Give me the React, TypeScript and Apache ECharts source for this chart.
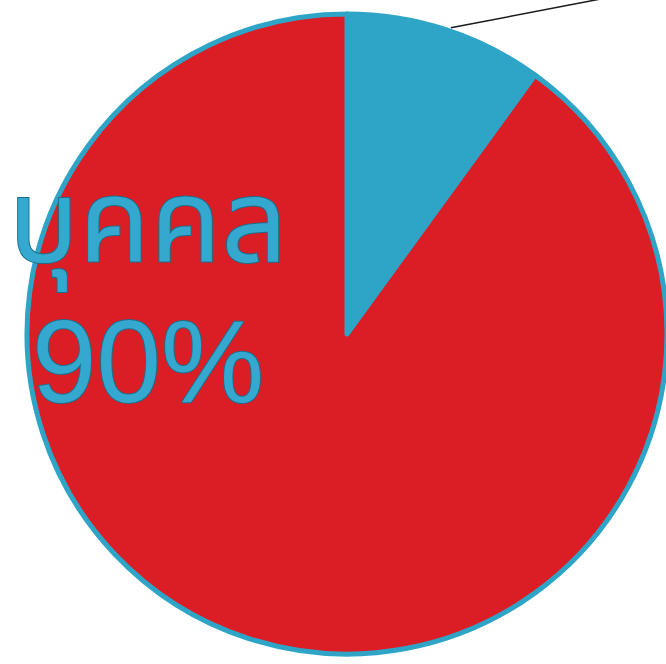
import React, { useEffect, useRef } from "react";
import * as echarts from "echarts";

const categories = ["นิติบุคคล", "บุคคล"];
const values = [10, 90];
const colors = ["#2ea4c6", "#db1e26"];

export default function App() {
  const ref = useRef<HTMLDivElement>(null);
  useEffect(() => {
    document.body.style.margin = "0";
    if (!ref.current) return;
    const chart = echarts.init(ref.current, null, { renderer: "svg" });
    const cx = 347;
    const cy = 334;
    const r = 320;
    const total = values.reduce((a, b) => a + b, 0);
    // midpoint angle of the first slice (clockwise from top)
    const midDeg = ((values[0] / total) * 360) / 2;
    const midRad = (midDeg * Math.PI) / 180;
    const sx = cx + (r + 3) * Math.sin(midRad) + 4;
    const sy = cy - (r + 3) * Math.cos(midRad) + 1;
    const dirX = 130,
      dirY = -25;
    const dl = Math.hypot(dirX, dirY);
    const ex = sx + (dirX / dl) * 400;
    const ey = sy + (dirY / dl) * 400;

    const labelBase = {
      show: true,
      position: "inside",
      fontFamily: "'Liberation Sans', Arial, 'Noto Sans Thai', sans-serif",
      fontSize: 116,
      color: "#35a8d0",
      textBorderColor: "#1c6f8c",
      textBorderWidth: 2,
      align: "center",
    };

    const makeSeries = (fmt: string, y: number, visible: boolean) => ({
      type: "pie",
      center: [cx, cy],
      radius: [0, r],
      startAngle: 90,
      clockwise: true,
      silent: true,
      z: visible ? 1 : 2,
      itemStyle: visible
        ? { borderColor: "#2ea4c6", borderWidth: 5 }
        : { color: "transparent", borderWidth: 0 },
      data: categories.map((name, i) => ({
        name,
        value: values[i],
        itemStyle: visible ? { color: colors[i] } : { color: "transparent" },
        label: i === 1 ? { ...labelBase, formatter: fmt } : { show: false },
        labelLine: { show: false },
      })),
      labelLayout: (params: any) =>
        params.dataIndex === 1
          ? { x: 148, y, align: "center", verticalAlign: "middle" }
          : {},
    });

    chart.setOption({
      animation: false,
      backgroundColor: "#ffffff",
      series: [makeSeries("{b}", 222, true), makeSeries("{d}%", 362, false)],
      graphic: [
        {
          type: "line",
          shape: { x1: sx, y1: sy, x2: ex, y2: ey },
          style: { stroke: "#1a1a1a", lineWidth: 1.5 },
          silent: true,
        },
      ],
    });
    return () => chart.dispose();
  }, []);
  return <div ref={ref} style={{ width: 666, height: 664 }} />;
}
